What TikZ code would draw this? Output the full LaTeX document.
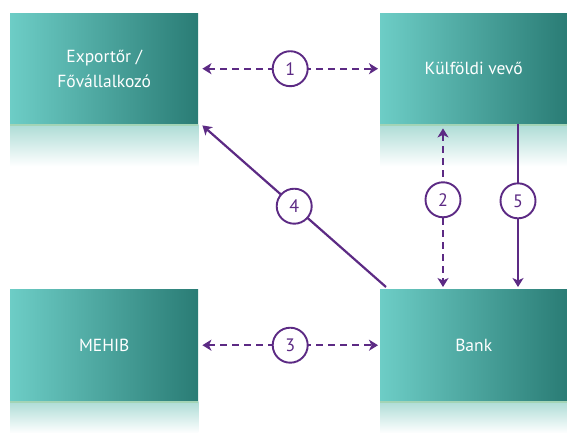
\documentclass[tikz,border=0pt]{standalone}
\usepackage{fontspec}
\setmainfont{PT Sans}
\usetikzlibrary{arrows.meta,calc}
\definecolor{tealL}{HTML}{6DCDC6}
\definecolor{tealM}{HTML}{3AAEA6}
\definecolor{tealR}{HTML}{2A7C75}
\definecolor{reflTop}{HTML}{ADDCD6}
\definecolor{reflLine}{HTML}{A3D4B6}
\definecolor{purp}{HTML}{5C2A84}
\tikzset{
  box/.style={rectangle, anchor=north west, inner sep=0pt, minimum width=188pt,
    minimum height=111pt, left color=tealL, middle color=tealM, right color=tealR,
    text=white, align=center, font=\fontsize{17.5}{25}\selectfont},
  num/.style={circle, draw=purp, line width=1.9pt, fill=white, minimum size=35pt,
    inner sep=0pt, text=purp, font=\fontsize{18}{18}\selectfont},
  conn/.style={draw=purp, line width=2.2pt, -{Stealth[length=9pt,width=11pt,inset=2.5pt]}},
  biconn/.style={conn, {Stealth[length=9pt,width=11pt,inset=2.5pt]}-{Stealth[length=9pt,width=11pt,inset=2.5pt]}},
  dashconn/.style={biconn, dash pattern=on 7pt off 5pt},
  refl/.style={top color=reflTop, bottom color=white, draw=none}
}
\begin{document}
\begin{tikzpicture}[x=1pt,y=-1pt]
\useasboundingbox (0,0) rectangle (567,432);
\fill[white] (0,0) rectangle (567,432);
% boxes
\node[box] (exp) at (10,13) {Exportőr /\\Fővállalkozó};
\node[box, minimum width=187pt] (kulf) at (380,13) {Külföldi vevő};
\node[box, minimum height=112pt] (mehib) at (10,289) {MEHIB};
\node[box, minimum width=187pt, minimum height=112pt] (bank) at (380,289) {Bank};
% reflections
\foreach \b/\h in {exp/42,kulf/42,mehib/32,bank/32}{
  \fill[refl] (\b.south west) rectangle ([yshift=-\h pt]\b.south east);
  \draw[reflLine, line width=1.5pt] ([yshift=-0.75pt]\b.south west) -- ([yshift=-0.75pt]\b.south east);
}
% connectors
\draw[dashconn] ([xshift=4pt]exp.east) -- node[num, solid]{1} ([xshift=-2pt]kulf.west);
\draw[dashconn] ([xshift=4pt]mehib.east) -- node[num, solid]{3} ([xshift=-2pt]bank.west);
\draw[dashconn] ([xshift=63pt,yshift=-4pt]kulf.south west) -- node[num, solid, pos=0.45]{2} ([xshift=63pt,yshift=2pt]bank.north west);
\draw[conn] ([xshift=138pt]kulf.south west) -- node[num, pos=0.47]{5} ([xshift=138pt,yshift=2pt]bank.north west);
\draw[conn] ([xshift=6pt,yshift=2pt]bank.north west) -- node[num]{4} ([xshift=4pt,yshift=-1pt]exp.south east);
\end{tikzpicture}
\end{document}
